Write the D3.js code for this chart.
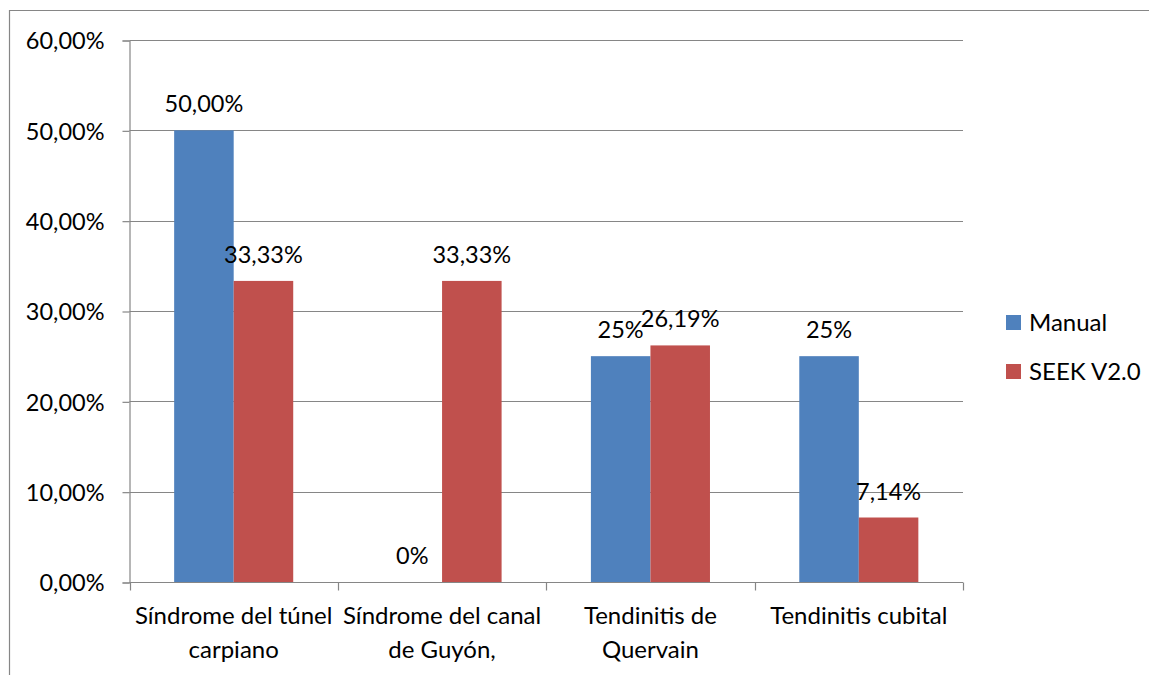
<!DOCTYPE html>
<html>
<head>
<meta charset="utf-8">
<script src="https://cdn.jsdelivr.net/npm/d3@7"></script>
<style>
  html, body { margin: 0; padding: 0; background: #fff; }
  svg { display: block; }
  text { font-family: Lato, "Open Sans", sans-serif; fill: #000; }
</style>
</head>
<body>
<svg id="chart" width="1149" height="675"></svg>
<script>
// Categories (each may break over two lines)
const categories = [
  ["Síndrome del túnel", "carpiano"],
  ["Síndrome del canal", "de Guyón,"],
  ["Tendinitis de", "Quervain"],
  ["Tendinitis cubital"]
];
const seriesNames = ["Manual", "SEEK V2.0"];
const manualValues = [0.50, 0, 0.25, 0.25];
const seekValues = [0.3333, 0.3333, 0.2619, 0.0714];
const manualLabels = ["50,00%", "0%", "25%", "25%"];
const seekLabels = ["33,33%", "33,33%", "26,19%", "7,14%"];
const yTicks = [0, 0.1, 0.2, 0.3, 0.4, 0.5, 0.6];
const yTickLabels = ["0,00%", "10,00%", "20,00%", "30,00%", "40,00%", "50,00%", "60,00%"];
const colors = ["#4F81BD", "#C0504D"];

const svg = d3.select("#chart");
const W = 1149, H = 675;
const plot = { left: 129.5, right: 963, top: 40, bottom: 582 };
const gridColor = "#868686";
const fontSize = 23.5;
const catFontSize = 24;

// Outer chart frame
svg.append("path")
  .attr("d", `M9.5,${H + 2} L9.5,10.5 L${W + 2},10.5`)
  .attr("fill", "none").attr("stroke", gridColor).attr("stroke-width", 1.2);

const x0 = d3.scaleBand().domain(d3.range(categories.length))
  .range([plot.left, plot.right]).paddingInner(0).paddingOuter(0);
const x1 = d3.scaleBand().domain(d3.range(2))
  .range([0, x0.bandwidth()]).paddingInner(0).paddingOuter(0.75);
const y = d3.scaleLinear().domain([0, 0.6]).range([plot.bottom, plot.top]);

// Horizontal gridlines
svg.append("g").selectAll("line").data(yTicks.slice(1)).join("line")
  .attr("x1", plot.left).attr("x2", plot.right)
  .attr("y1", d => Math.round(y(d)) + 0.5).attr("y2", d => Math.round(y(d)) + 0.5)
  .attr("stroke", gridColor).attr("stroke-width", 1.2);

// Y axis
const yAxis = d3.axisLeft(y).tickValues(yTicks)
  .tickFormat((d, i) => yTickLabels[i]).tickSize(7).tickPadding(18);
const gy = svg.append("g").attr("transform", `translate(${plot.left},0.5)`).call(yAxis);
gy.select(".domain").attr("stroke", gridColor).attr("stroke-width", 1.2);
gy.selectAll(".tick line").attr("stroke", gridColor).attr("stroke-width", 1.2);
gy.selectAll(".tick text").style("font-size", fontSize + "px")
  .style("font-family", "Lato, sans-serif").attr("fill", "#000").attr("dy", "0.36em");

// Bars
const series = [manualValues, seekValues];
const labels = [manualLabels, seekLabels];
const gBars = svg.append("g");
series.forEach((vals, s) => {
  gBars.selectAll(null).data(vals).join("rect")
    .attr("x", (d, i) => x0(i) + x1(s))
    .attr("width", x1.bandwidth())
    .attr("y", d => y(d))
    .attr("height", d => plot.bottom - y(d))
    .attr("fill", colors[s]);
});

// X axis
const xAxis = d3.axisBottom(x0).tickSize(0).tickFormat(() => "");
const gx = svg.append("g").attr("transform", `translate(0,${plot.bottom + 0.5})`).call(xAxis);
gx.select(".domain").remove();
gx.append("line").attr("x1", plot.left).attr("x2", plot.right)
  .attr("stroke", gridColor).attr("stroke-width", 1.2);
const boundaries = d3.range(categories.length + 1).map(i => plot.left + i * x0.bandwidth());
gx.selectAll(".sep").data(boundaries).join("line").attr("class", "sep")
  .attr("x1", d => Math.round(d) + 0.5).attr("x2", d => Math.round(d) + 0.5)
  .attr("y1", 0).attr("y2", 8)
  .attr("stroke", gridColor).attr("stroke-width", 1.2);

// Category labels
categories.forEach((lines, i) => {
  const cx = x0(i) + x0.bandwidth() / 2;
  const t = svg.append("text").attr("text-anchor", "middle")
    .attr("x", cx).attr("y", 624).style("font-size", catFontSize + "px");
  lines.forEach((ln, k) => {
    t.append("tspan").attr("x", cx).attr("dy", k === 0 ? 0 : 34).text(ln);
  });
});

// Data labels
series.forEach((vals, s) => {
  svg.append("g").selectAll("text").data(vals).join("text")
    .attr("text-anchor", "middle")
    .attr("x", (d, i) => x0(i) + x1(s) + x1.bandwidth() / 2)
    .attr("y", d => y(d) - 18)
    .style("font-size", fontSize + "px")
    .text((d, i) => labels[s][i]);
});

// Legend
const legend = svg.append("g").attr("transform", "translate(1006,315)");
seriesNames.forEach((name, i) => {
  const g = legend.append("g").attr("transform", `translate(0,${i * 49})`);
  g.append("rect").attr("width", 15).attr("height", 15).attr("fill", colors[i]);
  g.append("text").attr("x", 23).attr("y", 16).style("font-size", catFontSize + "px").text(name);
});
</script>
</body>
</html>
